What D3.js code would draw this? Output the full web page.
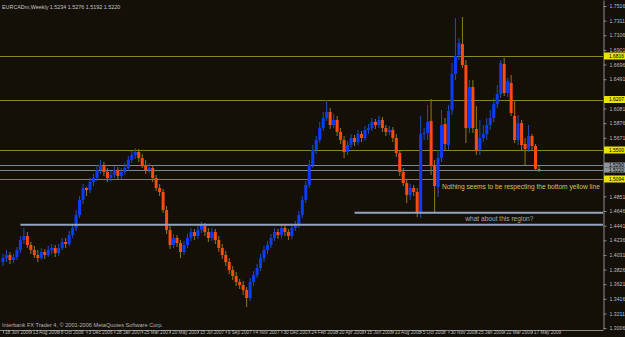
<!DOCTYPE html>
<html>
<head>
<meta charset="utf-8">
<script src="https://cdn.jsdelivr.net/npm/d3@7"></script>
<style>
  body { margin: 0; background: #141008; overflow: hidden; }
  svg { display: block; }
  text { font-family: "Liberation Sans", Arial, sans-serif; }
</style>
</head>
<body>
<div id="chart"></div>
<script>
// weekly EURCAD bars, first bar = week of 18 Jun 2006
const symbol = "EURCADm,Weekly";
const firstWeek = new Date(2006, 5, 18);

const openP = [1.3932,1.3988,1.4030,1.3960,1.4002,1.4100,1.4240,1.4296,1.4170,1.4100,
  1.4030,1.3988,1.4072,1.4030,1.4100,1.4128,1.4058,1.4128,1.4212,1.4184,
  1.4310,1.4408,1.4590,1.4800,1.4968,1.4940,1.5052,1.5108,1.5220,1.5290,
  1.5192,1.5108,1.5150,1.5220,1.5136,1.5192,1.5248,1.5360,1.5430,1.5472,
  1.5388,1.5290,1.5220,1.5248,1.5108,1.4968,1.4912,1.4660,1.4380,1.4170,
  1.4268,1.4198,1.4072,1.4170,1.4268,1.4352,1.4296,1.4380,1.4436,1.4352,
  1.4268,1.4352,1.4240,1.4128,1.4030,1.3932,1.3820,1.3736,1.3652,1.3610,
  1.3540,1.3428,1.3652,1.3750,1.3848,1.3988,1.4100,1.4170,1.4268,1.4352,
  1.4310,1.4408,1.4352,1.4296,1.4408,1.4450,1.4590,1.4800,1.5010,1.5290,
  1.5500,1.5640,1.5808,1.5948,1.6032,1.5850,1.5920,1.5752,1.5640,1.5472,
  1.5570,1.5668,1.5612,1.5724,1.5668,1.5780,1.5808,1.5892,1.5850,1.5920,
  1.5808,1.5752,1.5780,1.5668,1.5458,1.5192,1.5038,1.4870,1.4968,1.4912,
  1.4632,1.5724,1.5738,1.5906,1.5290,1.4982,1.5388,1.5864,1.5570,1.6060,
  1.6564,1.6830,1.6984,1.6690,1.5808,1.6382,1.5794,1.5500,1.5668,1.5724,
  1.5850,1.5948,1.6144,1.6284,1.6704,1.6298,1.6438,1.5976,1.5640,1.5878,
  1.5584,1.5514,1.5696,1.5556,1.5234];

const highP = [1.4044,1.4100,1.4072,1.4044,1.4142,1.4296,1.4408,1.4352,1.4212,1.4156,
  1.4100,1.4128,1.4114,1.4156,1.4184,1.4170,1.4184,1.4268,1.4268,1.4366,
  1.4464,1.4660,1.4856,1.5024,1.4982,1.5108,1.5164,1.5290,1.5360,1.5332,
  1.5248,1.5206,1.5276,1.5262,1.5248,1.5318,1.5416,1.5486,1.5528,1.5514,
  1.5444,1.5360,1.5318,1.5290,1.5150,1.5024,1.4954,1.4716,1.4436,1.4324,
  1.4310,1.4240,1.4226,1.4324,1.4408,1.4394,1.4436,1.4492,1.4478,1.4408,
  1.4408,1.4394,1.4296,1.4184,1.4086,1.3988,1.3876,1.3792,1.3694,1.3666,
  1.3582,1.3708,1.3806,1.3904,1.4044,1.4156,1.4226,1.4324,1.4408,1.4394,
  1.4464,1.4450,1.4394,1.4464,1.4506,1.4646,1.4856,1.5066,1.5360,1.5570,
  1.5696,1.5892,1.6032,1.6200,1.6088,1.6004,1.5976,1.5808,1.5696,1.5626,
  1.5724,1.5710,1.5780,1.5766,1.5836,1.5864,1.5948,1.5934,1.5976,1.5962,
  1.5850,1.5836,1.5822,1.5724,1.5500,1.5248,1.5080,1.5024,1.5010,1.4968,
  1.5976,1.5808,1.6130,1.6214,1.5360,1.5500,1.6060,1.5948,1.6130,1.6718,
  1.7348,1.7068,1.7362,1.6760,1.6480,1.6480,1.6116,1.5920,1.5850,1.5948,
  1.6060,1.6228,1.6410,1.6760,1.6788,1.6508,1.6550,1.6200,1.5990,1.5920,
  1.5668,1.5850,1.5724,1.5584,1.5276];

const lowP = [1.3876,1.3932,1.3904,1.3918,1.3960,1.4058,1.4184,1.4128,1.4044,1.3988,
  1.3932,1.3960,1.3974,1.4002,1.4044,1.4002,1.4016,1.4100,1.4128,1.4156,
  1.4268,1.4366,1.4548,1.4744,1.4856,1.4900,1.4996,1.5066,1.5164,1.5136,
  1.5052,1.5066,1.5108,1.5080,1.5094,1.5150,1.5206,1.5318,1.5374,1.5332,
  1.5248,1.5164,1.5178,1.5052,1.4926,1.4856,1.4618,1.4324,1.4114,1.4128,
  1.4142,1.3988,1.4030,1.4128,1.4226,1.4240,1.4254,1.4338,1.4296,1.4212,
  1.4226,1.4184,1.4072,1.3974,1.3876,1.3764,1.3680,1.3596,1.3554,1.3470,
  1.3302,1.3386,1.3596,1.3708,1.3806,1.3932,1.4044,1.4128,1.4226,1.4254,
  1.4268,1.4296,1.4240,1.4254,1.4366,1.4408,1.4548,1.4758,1.4968,1.5248,
  1.5444,1.5600,1.5766,1.5906,1.5794,1.5808,1.5696,1.5584,1.5388,1.5430,
  1.5528,1.5556,1.5570,1.5612,1.5626,1.5724,1.5766,1.5794,1.5808,1.5752,
  1.5696,1.5710,1.5612,1.5402,1.5136,1.4996,1.4758,1.4800,1.4856,1.4562,
  1.4548,1.5640,1.5640,1.5150,1.4632,1.4842,1.5332,1.5500,1.5500,1.5990,
  1.6480,1.6760,1.6648,1.5598,1.5738,1.5738,1.5430,1.5430,1.5612,1.5640,
  1.5780,1.5892,1.6088,1.6228,1.6256,1.6242,1.5976,1.5598,1.5570,1.5500,
  1.5290,1.5472,1.5500,1.5206,1.5192];

const closeP = [1.3988,1.4030,1.3960,1.4002,1.4100,1.4240,1.4296,1.4170,1.4100,1.4030,
  1.3988,1.4072,1.4030,1.4100,1.4128,1.4058,1.4128,1.4212,1.4184,1.4310,
  1.4408,1.4590,1.4800,1.4968,1.4940,1.5052,1.5108,1.5220,1.5290,1.5192,
  1.5108,1.5150,1.5220,1.5136,1.5192,1.5248,1.5360,1.5430,1.5472,1.5388,
  1.5290,1.5220,1.5248,1.5108,1.4968,1.4912,1.4660,1.4380,1.4170,1.4268,
  1.4198,1.4072,1.4170,1.4268,1.4352,1.4296,1.4380,1.4436,1.4352,1.4268,
  1.4352,1.4240,1.4128,1.4030,1.3932,1.3820,1.3736,1.3652,1.3610,1.3540,
  1.3428,1.3652,1.3750,1.3848,1.3988,1.4100,1.4170,1.4268,1.4352,1.4310,
  1.4408,1.4352,1.4296,1.4408,1.4450,1.4590,1.4800,1.5010,1.5290,1.5500,
  1.5640,1.5808,1.5948,1.6032,1.5850,1.5920,1.5752,1.5640,1.5472,1.5570,
  1.5668,1.5612,1.5724,1.5668,1.5780,1.5808,1.5892,1.5850,1.5920,1.5808,
  1.5752,1.5780,1.5668,1.5458,1.5192,1.5038,1.4870,1.4968,1.4912,1.4632,
  1.5724,1.5738,1.5892,1.5276,1.4996,1.5388,1.5850,1.5584,1.6046,1.6564,
  1.6816,1.6998,1.6690,1.5808,1.6382,1.5808,1.5486,1.5668,1.5724,1.5850,
  1.5948,1.6144,1.6284,1.6718,1.6298,1.6466,1.6018,1.5640,1.5878,1.5570,
  1.5514,1.5696,1.5556,1.5234,1.5220];

// right scale labels (MT4 style, not round)
const priceTicks = [1.7516,1.7311,1.7106,1.6901,1.6696,1.6491,1.6286,1.6081,1.5876,1.5671,
  1.5466,1.5261,1.5056,1.4851,1.4646,1.4441,1.4236,1.4031,1.3826,1.3621,1.3416,1.3211,1.3006];

// bottom labels every 8 weeks
const dateTickWeeks = [0,8,16,24,32,40,48,56,64,72,80,88,96,104,112,120,128,136,144,152];

// horizontal lines drawn on the chart
const yellowLevels = [1.6816, 1.6207, 1.5500, 1.5094];
const askPrice = 1.5290;
const zoneLevels = [1.4622, 1.4454];
const zoneStartWeek = [101, 5];

const noteTexts = ["Nothing seems to be respecting the bottom yellow line", "what about this region?"];
const noteWeek = [126.1, 132.8];
const notePrice = [1.4954, 1.4506];

const copyright = "Interbank FX Trader 4, \u00a9 2001-2006 MetaQuotes Software Corp.";

const width = 625, height = 337;
const plotRight = 603, plotBottom = 330;

const svg = d3.select("#chart").append("svg")
  .attr("width", width)
  .attr("height", height);

svg.append("rect").attr("width", width).attr("height", height).attr("fill", "#141008");

const weeks = d3.timeWeek.range(firstWeek, d3.timeWeek.offset(firstWeek, closeP.length));

const x = d3.scaleTime()
  .domain([weeks[0], weeks[weeks.length - 1]])
  .range([3, 539]);

const y = d3.scaleLinear()
  .domain([1.2994, 1.76])
  .range([329, 0]);

const weekW = x(weeks[1]) - x(weeks[0]);

const bars = weeks.map((d, i) => ({
  date: d, o: openP[i], h: highP[i], l: lowP[i], c: closeP[i]
}));

// level lines
svg.append("g").selectAll("line")
  .data(yellowLevels)
  .join("line")
  .attr("x1", 0).attr("x2", plotRight)
  .attr("y1", d => Math.round(y(d)) + 0.5).attr("y2", d => Math.round(y(d)) + 0.5)
  .attr("stroke", "#8a8622").attr("stroke-width", 1);

// bid / ask lines
svg.append("g").selectAll("line")
  .data([askPrice, closeP[closeP.length - 1]])
  .join("line")
  .attr("x1", 0).attr("x2", plotRight)
  .attr("y1", d => Math.round(y(d)) + 0.5).attr("y2", d => Math.round(y(d)) + 0.5)
  .attr("stroke", "#7c8794").attr("stroke-width", 1);

// candles
const candles = svg.append("g");

candles.selectAll("line")
  .data(bars)
  .join("line")
  .attr("x1", d => x(d.date))
  .attr("x2", d => x(d.date))
  .attr("y1", d => y(d.h))
  .attr("y2", d => y(d.l))
  .attr("stroke", d => d.c >= d.o ? "#1f4fae" : "#8c7a18")
  .attr("stroke-width", 1);

candles.selectAll("rect")
  .data(bars)
  .join("rect")
  .attr("x", d => x(d.date) - 1.5)
  .attr("width", 3)
  .attr("y", d => y(Math.max(d.o, d.c)))
  .attr("height", d => Math.max(1, Math.abs(y(d.o) - y(d.c))))
  .attr("fill", d => d.c >= d.o ? "#0a3cff" : "#ff4a10");

// user drawn zones
svg.append("g").selectAll("line")
  .data(zoneLevels)
  .join("line")
  .attr("x1", (d, i) => x(weeks[0]) + weekW * zoneStartWeek[i])
  .attr("x2", plotRight)
  .attr("y1", d => y(d)).attr("y2", d => y(d))
  .attr("stroke", "#93a3bd").attr("stroke-width", 2);

// notes
svg.append("g").selectAll("text")
  .data(noteTexts)
  .join("text")
  .attr("x", (d, i) => x(weeks[0]) + weekW * noteWeek[i])
  .attr("y", (d, i) => y(notePrice[i]))
  .attr("font-size", "6.6px")
  .attr("fill", (d, i) => i == 0 ? "#d2c64c" : "#a3abb5")
  .text(d => d);

// mask anything past the price scale
svg.append("rect")
  .attr("x", plotRight + 0.5).attr("y", 0)
  .attr("width", width - plotRight).attr("height", height)
  .attr("fill", "#141008");
svg.append("rect")
  .attr("x", 0).attr("y", plotBottom + 0.5)
  .attr("width", width).attr("height", height - plotBottom)
  .attr("fill", "#141008");

// right price axis, labels hidden where a level tag sits
const tagged = yellowLevels.concat([askPrice, closeP[closeP.length - 1]]);
const freeTicks = priceTicks.filter(t => tagged.every(p => Math.abs(y(p) - y(t)) > 6));

const yAxis = svg.append("g")
  .attr("transform", `translate(${plotRight + 0.5},0)`)
  .call(d3.axisRight(y).tickValues(freeTicks).tickFormat(d3.format(".4f")).tickSize(3).tickSizeOuter(0));
yAxis.select(".domain").attr("stroke", "#8a8a8a");
yAxis.selectAll(".tick line").attr("stroke", "#8a8a8a");
yAxis.selectAll(".tick text")
  .attr("x", 6)
  .attr("fill", "#bdbdbd")
  .attr("font-size", "5.2px")
  .attr("font-family", "Liberation Sans, Arial, sans-serif");

// highlighted price labels for the levels
function priceTag(p, bg, h) {
  const g = svg.append("g").attr("transform", `translate(${plotRight + 1},${y(p)})`);
  g.append("rect").attr("x", 0).attr("y", -h / 2).attr("width", width - plotRight).attr("height", h).attr("fill", bg);
  g.append("text").attr("x", 5).attr("y", 1.8).attr("font-size", "4.9px").attr("fill", "#000").text(d3.format(".4f")(p));
}
yellowLevels.forEach(p => priceTag(p, "#e8e400", 7));
priceTag(askPrice, "#8d96a2", 5);
priceTag(closeP[closeP.length - 1], "#8d96a2", 5);

// bottom date axis
svg.append("line")
  .attr("x1", 0).attr("x2", plotRight + 0.5)
  .attr("y1", plotBottom + 0.5).attr("y2", plotBottom + 0.5)
  .attr("stroke", "#8a8a8a");

const xAxis = svg.append("g")
  .attr("transform", `translate(0,${plotBottom + 0.5})`)
  .call(d3.axisBottom(x)
    .tickValues(dateTickWeeks.map(i => weeks[i]))
    .tickFormat(d3.timeFormat("%-d %b %Y"))
    .tickSize(3).tickSizeOuter(0));
xAxis.select(".domain").remove();
xAxis.selectAll(".tick line").attr("stroke", "#8a8a8a");
xAxis.selectAll(".tick text")
  .attr("text-anchor", "start")
  .attr("x", 1.5).attr("y", 0.5).attr("dy", "0.71em")
  .attr("fill", "#bdbdbd")
  .attr("font-size", "4.7px")
  .attr("font-family", "Liberation Sans, Arial, sans-serif");

// header and footer text
const last = bars[bars.length - 1];
svg.append("text")
  .attr("x", 2).attr("y", 9)
  .attr("font-size", "5.4px").attr("fill", "#c4c4c4")
  .text(`${symbol}  ${[last.o, last.h, last.l, last.c].map(d3.format(".4f")).join(" ")}`);

svg.append("text")
  .attr("x", 2).attr("y", 327)
  .attr("font-size", "5.6px").attr("fill", "#b4b4b4")
  .text(copyright);
</script>
</body>
</html>
